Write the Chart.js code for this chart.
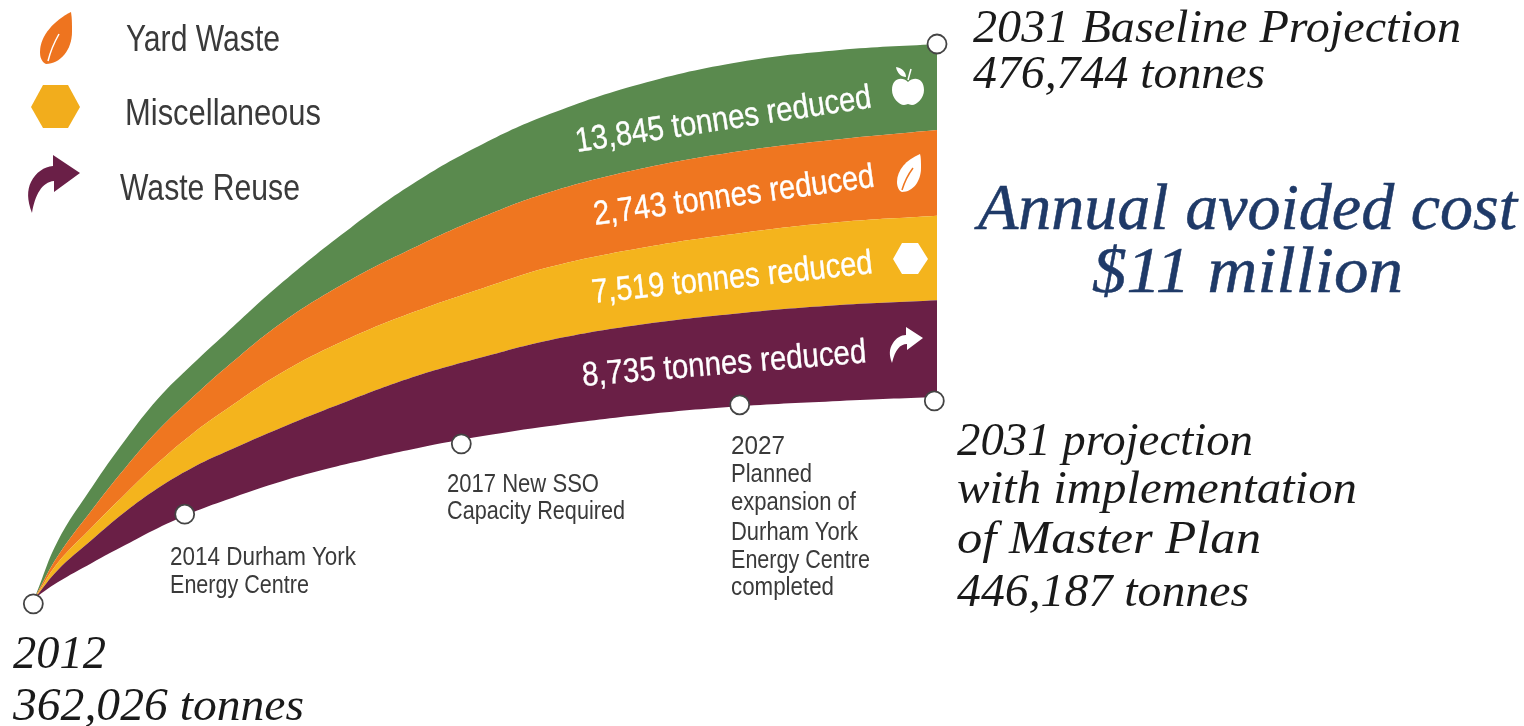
<!DOCTYPE html>
<html>
<head>
<meta charset="utf-8">
<script src="https://cdn.jsdelivr.net/npm/chart.js@4"></script>
<style>
  html, body { margin: 0; padding: 0; background: #fff; overflow: hidden; }
  #wrap { position: relative; width: 1524px; height: 726px; }
  #chart, #overlay { position: absolute; left: 0; top: 0; }
  .sans { font-family: "Liberation Sans Narrow", "Liberation Sans", sans-serif; fill: #3a3a3a; }
  .band { font-family: "Liberation Sans Narrow", "Liberation Sans", sans-serif; fill: #fff; stroke: #fff; stroke-width: 0.35; }
  .serif { font-family: "Liberation Serif", serif; font-style: italic; fill: #1a1a1a; }
  .cost { font-family: "Liberation Serif", serif; font-style: italic; fill: #1f3a68; stroke: #1f3a68; stroke-width: 0.5; }
</style>
</head>
<body>
<div id="wrap">
  <canvas id="chart" width="1524" height="726"></canvas>
  <svg id="overlay" width="1524" height="726" xmlns="http://www.w3.org/2000/svg">
    <!-- legend icons -->
    <path d="M71,12 C55,20 40,35 40,52 C40,58 42,62 46,64 C60,64 72,50 72,32 C72,24 72,18 71,12 Z" fill="#ee741f"/>
    <path d="M48,61 C51,49 55,41 59,34" stroke="#fff" stroke-width="1.5" fill="none"/>
    <polygon points="31,107 43,85 68,85 80,107 68,128 43,128" fill="#f2ad1c"/>
    <path d="M53,155 L80,173 L54,192 L54,181 C42,182 35,195 32,213 C27,200 27,190 31,182 C36,172 44,167 53,166 Z" fill="#6a1f47"/>
    <!-- white icons on the bands -->
    <path d="M908,82 C902,76 892,78 892,90 C892,98 899,105 904,105 C906,105 907,104 908,104 C909,104 910,105 912,105 C917,105 924,98 924,90 C924,78 914,76 908,82 Z" fill="#fff"/>
    <path d="M896,67 C902,68 906,72 906,77 C901,77 897,73 896,67 Z" fill="#fff"/>
    <path d="M908,80 L911,69" stroke="#fff" stroke-width="1.5"/>
    <path d="M920,154 C906,160 897,170 897,182 C897,187 899,191 902,192 C913,192 921,181 921,168 C921,162 921,157 920,154 Z" fill="#fff"/>
    <path d="M902,190 C905,180 910,172 913,168" stroke="#ef7620" stroke-width="1.5" fill="none"/>
    <polygon points="893,259 902,243 918,243 928,259 918,274 902,274" fill="#fff"/>
    <path d="M906,327 L923,338 L907,350 L907,344 C900,344 895,350 892,363 C889,355 889,349 893,343 C896,338 901,335 906,335 Z" fill="#fff"/>
  </svg>
</div>
<script>
// position along the arc, 0 = 2012 end, 100 = 2031 end
const timeline = [0, 2.4, 6.2, 9.9, 13.5, 17.3, 21, 27.4, 34.9, 42.3, 49.6, 57, 67, 78.1, 89.2, 100];

// band edges as drawn, the picture is not to scale
const withPlan = [362026, 365100, 369100, 372800, 376300, 379500, 382100, 386100, 389800, 392900, 395400, 397500, 399800, 401600, 402700, 403500];
const reuseTop = [362100, 367600, 373900, 379700, 384600, 388800, 392100, 397300, 402900, 407900, 411800, 415300, 418500, 420900, 422600, 423600];
const miscTop = [362200, 369100, 376500, 383400, 389800, 395800, 400800, 408700, 415800, 421400, 426100, 430500, 434400, 437500, 439800, 441100];
const yardTop = [362400, 370500, 380100, 388800, 396500, 403300, 409500, 419100, 427800, 434800, 440900, 446000, 450800, 454500, 457000, 458900];
const baseline = [362600, 373600, 384800, 394600, 403100, 410200, 416600, 427400, 438600, 448300, 456000, 462200, 468400, 473000, 475500, 476744];

const milestoneX = [-0.3, 16.5, 47.2, 78.1, 99.7, 100];
const milestoneY = [360600, 379200, 393800, 401900, 402700, 476744];

const reductions = [13845, 2743, 7519, 8735];
const legendNames = ['Yard Waste', 'Miscellaneous', 'Waste Reuse'];

function pts(arr) {
    return arr.map((v, i) => ({ x: timeline[i], y: v }));
}

function band(label, arr, color) {
    return {
        label: label,
        data: pts(arr),
        borderWidth: 0,
        pointRadius: 0,
        tension: 0.4,
        backgroundColor: color,
        fill: color ? '-1' : false
    };
}

new Chart(document.getElementById('chart').getContext('2d'), {
    type: 'line',
    data: {
        datasets: [
            band('With Master Plan', withPlan, null),
            band('Waste Reuse', reuseTop, '#6a1f46'),
            band('Miscellaneous', miscTop, '#f4b41d'),
            band('Yard Waste', yardTop, '#ef7620'),
            band('Baseline', baseline, '#5a8a4e'),
            {
                label: 'Milestones',
                order: -1,
                showLine: false,
                data: milestoneX.map((x, i) => ({ x: x, y: milestoneY[i] })),
                pointStyle: 'circle',
                pointRadius: 9.5,
                pointBorderWidth: 1.8,
                pointBorderColor: '#444',
                pointBackgroundColor: '#fff'
            }
        ]
    },
    options: {
        responsive: false,
        animation: false,
        layout: { padding: 0, autoPadding: false },
        plugins: { legend: { display: false }, tooltip: { enabled: false } },
        scales: {
            x: { type: 'linear', display: false, min: -4, max: 165.15 },
            y: { type: 'linear', display: false, min: 335265, max: 485874 }
        }
    }
});

// text goes in the svg so it can sit on a baseline and be fitted to a width
const overlay = document.getElementById('overlay');
function addText(str, cls, x, y, size, width, angle) {
    const t = document.createElementNS('http://www.w3.org/2000/svg', 'text');
    t.textContent = str;
    t.setAttribute('class', cls);
    t.setAttribute('x', x);
    t.setAttribute('y', y);
    t.setAttribute('font-size', size);
    if (width) {
        t.setAttribute('textLength', width);
        t.setAttribute('lengthAdjust', 'spacingAndGlyphs');
    }
    if (angle) t.setAttribute('transform', 'rotate(' + angle + ' ' + x + ' ' + y + ')');
    overlay.appendChild(t);
}

addText(legendNames[0], 'sans', 126, 51, 36, 154);
addText(legendNames[1], 'sans', 125, 125, 36, 196);
addText(legendNames[2], 'sans', 120, 200, 36, 180);

addText(reductions[0].toLocaleString('en-US') + ' tonnes reduced', 'band', 577, 152, 34, 299, -8.6);
addText(reductions[1].toLocaleString('en-US') + ' tonnes reduced', 'band', 595, 225, 34, 283, -7.8);
addText(reductions[2].toLocaleString('en-US') + ' tonnes reduced', 'band', 593, 303, 34, 282, -6.1);
addText(reductions[3].toLocaleString('en-US') + ' tonnes reduced', 'band', 583, 386, 34, 285, -4.8);

addText('2014 Durham York', 'sans', 170, 565, 26, 186);
addText('Energy Centre', 'sans', 170, 593, 26, 139);
addText('2017 New SSO', 'sans', 447, 492, 26, 152);
addText('Capacity Required', 'sans', 447, 519, 26, 178);
addText('2027', 'sans', 731, 454, 26, 54);
addText('Planned', 'sans', 731, 482, 26, 81);
addText('expansion of', 'sans', 731, 510, 26, 125);
addText('Durham York', 'sans', 731, 540, 26, 127);
addText('Energy Centre', 'sans', 731, 568, 26, 139);
addText('completed', 'sans', 731, 595, 26, 103);

addText('2012', 'serif', 13, 668, 46, 93);
addText('362,026 tonnes', 'serif', 13, 720, 46, 291);
addText('2031 Baseline Projection', 'serif', 973, 42, 46, 488);
addText('476,744 tonnes', 'serif', 973, 88, 46, 292);
addText('2031 projection', 'serif', 957, 455, 46, 296);
addText('with implementation', 'serif', 957, 503, 46, 400);
addText('of  Master Plan', 'serif', 957, 553, 46, 304);
addText('446,187 tonnes', 'serif', 957, 606, 46, 292);

addText('Annual avoided cost', 'cost', 978, 229, 65, 539);
addText('$11 million', 'cost', 1092, 292, 65, 311);
</script>
</body>
</html>
